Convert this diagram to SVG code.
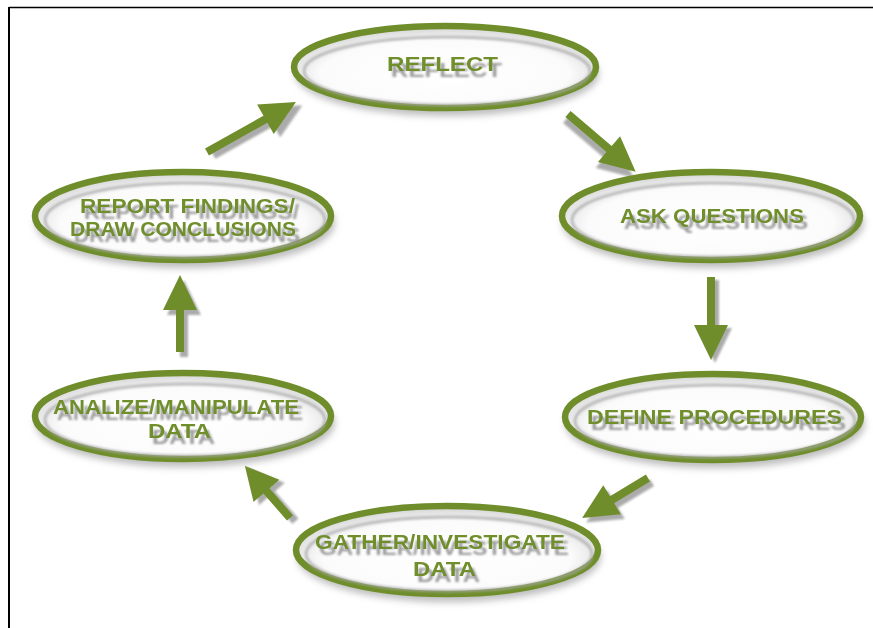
<svg xmlns="http://www.w3.org/2000/svg" width="873" height="628" viewBox="0 0 873 628">
<defs>
<radialGradient id="fillG" cx="50%" cy="58%" r="55%">
<stop offset="0%" stop-color="#ffffff"/>
<stop offset="75%" stop-color="#fbfbfb"/>
<stop offset="100%" stop-color="#d8d8d8"/>
</radialGradient>
<filter id="blur" x="-20%" y="-30%" width="140%" height="160%"><feGaussianBlur stdDeviation="3.5"/></filter>
<filter id="tblur" x="-10%" y="-50%" width="120%" height="200%"><feGaussianBlur stdDeviation="0.8"/></filter>
<filter id="ts" x="-5%" y="-40%" width="115%" height="200%">
<feGaussianBlur in="SourceAlpha" stdDeviation="0.9"/>
<feOffset dx="4" dy="6" result="o"/>
<feFlood flood-color="#8a8a8a" flood-opacity="0.85"/>
<feComposite in2="o" operator="in" result="s"/>
<feMerge><feMergeNode in="s"/><feMergeNode in="SourceGraphic"/></feMerge>
</filter>
</defs>
<style>
.ring{fill:url(#fillG);stroke:#6f8e2b;stroke-width:6.5}
.shade{fill:none;stroke:#a8a8a8;stroke-width:3;opacity:0.7}
.lbl{font-family:"Liberation Sans",Arial,sans-serif;font-weight:bold;font-size:21px;fill:#6f8e2b;filter:url(#ts)}
.arrow{fill:#6f8e2b}
.ashadow{fill:#8f8f8f;opacity:0.75}
.frame{stroke:#000;fill:none}
</style>
<rect width="873" height="628" fill="#ffffff"/>
<line class="frame" x1="9" y1="7.5" x2="873" y2="7.5" stroke-width="1.5"/>
<line class="frame" x1="9" y1="7" x2="9" y2="628" stroke-width="2"/>

<g id="connectors">
<g transform="translate(207,152) rotate(-29.3)">
<path class="ashadow" filter="url(#tblur)" transform="translate(4,6)" d="M0,-4 L67,-4 L67,-17 L102,0 L67,17 L67,4 L0,4 Z"/>
<path class="arrow" d="M0,-4 L67,-4 L67,-17 L102,0 L67,17 L67,4 L0,4 Z"/>
</g>
<g transform="translate(568,114) rotate(40.5)">
<path class="ashadow" filter="url(#tblur)" transform="translate(2,6)" d="M0,-4 L54,-4 L54,-17 L89,0 L54,17 L54,4 L0,4 Z"/>
<path class="arrow" d="M0,-4 L54,-4 L54,-17 L89,0 L54,17 L54,4 L0,4 Z"/>
</g>
<g transform="translate(711,277) rotate(90)">
<path class="ashadow" filter="url(#tblur)" transform="translate(3,-4)" d="M0,-4 L48,-4 L48,-17 L83,0 L48,17 L48,4 L0,4 Z"/>
<path class="arrow" d="M0,-4 L48,-4 L48,-17 L83,0 L48,17 L48,4 L0,4 Z"/>
</g>
<g transform="translate(648,478) rotate(148.8)">
<path class="ashadow" filter="url(#tblur)" transform="translate(-1,-6)" d="M0,-4 L42,-4 L42,-17 L77,0 L42,17 L42,4 L0,4 Z"/>
<path class="arrow" d="M0,-4 L42,-4 L42,-17 L77,0 L42,17 L42,4 L0,4 Z"/>
</g>
<g transform="translate(290,518) rotate(-130.9)">
<path class="ashadow" filter="url(#tblur)" transform="translate(-6,2)" d="M0,-4 L36,-4 L36,-17 L69,0 L36,17 L36,4 L0,4 Z"/>
<path class="arrow" d="M0,-4 L36,-4 L36,-17 L69,0 L36,17 L36,4 L0,4 Z"/>
</g>
<g transform="translate(180,352) rotate(-90)">
<path class="ashadow" filter="url(#tblur)" transform="translate(-5,4)" d="M0,-4 L42,-4 L42,-17 L77,0 L42,17 L42,4 L0,4 Z"/>
<path class="arrow" d="M0,-4 L42,-4 L42,-17 L77,0 L42,17 L42,4 L0,4 Z"/>
</g>
</g>

<g id="reflect">
<ellipse cx="447" cy="74" rx="152" ry="42" fill="#bdbdbd" filter="url(#blur)"/>
<ellipse class="ring" cx="445" cy="67" rx="151" ry="41"/>
<ellipse class="shade" cx="447" cy="71" rx="143" ry="34" filter="url(#tblur)"/>
<text class="lbl" x="387" y="71" textLength="111" lengthAdjust="spacingAndGlyphs">REFLECT</text>
</g>

<g id="ask">
<ellipse cx="713" cy="223" rx="151" ry="45" fill="#bdbdbd" filter="url(#blur)"/>
<ellipse class="ring" cx="711" cy="216" rx="149" ry="44"/>
<ellipse class="shade" cx="713" cy="220" rx="141" ry="37" filter="url(#tblur)"/>
<text class="lbl" x="620" y="223" textLength="184" lengthAdjust="spacingAndGlyphs">ASK QUESTIONS</text>
</g>

<g id="define">
<ellipse cx="715" cy="424" rx="150" ry="44" fill="#bdbdbd" filter="url(#blur)"/>
<ellipse class="ring" cx="713" cy="417" rx="148" ry="43"/>
<ellipse class="shade" cx="715" cy="421" rx="140" ry="36" filter="url(#tblur)"/>
<text class="lbl" x="587" y="424" textLength="255" lengthAdjust="spacingAndGlyphs">DEFINE PROCEDURES</text>
</g>

<g id="gather">
<ellipse cx="449" cy="557" rx="152" ry="45" fill="#bdbdbd" filter="url(#blur)"/>
<ellipse class="ring" cx="447" cy="550" rx="151" ry="44"/>
<ellipse class="shade" cx="449" cy="554" rx="143" ry="37" filter="url(#tblur)"/>
<text class="lbl" x="315" y="549" textLength="250" lengthAdjust="spacingAndGlyphs">GATHER/INVESTIGATE</text>
<text class="lbl" x="413" y="576" textLength="63" lengthAdjust="spacingAndGlyphs">DATA</text>
</g>

<g id="analize">
<ellipse cx="185" cy="423" rx="150" ry="44" fill="#bdbdbd" filter="url(#blur)"/>
<ellipse class="ring" cx="183" cy="416" rx="148" ry="43"/>
<ellipse class="shade" cx="185" cy="420" rx="140" ry="36" filter="url(#tblur)"/>
<text class="lbl" x="53" y="414" textLength="246" lengthAdjust="spacingAndGlyphs">ANALIZE/MANIPULATE</text>
<text class="lbl" x="148" y="438" textLength="63" lengthAdjust="spacingAndGlyphs">DATA</text>
</g>

<g id="report">
<ellipse cx="185" cy="223" rx="150" ry="45" fill="#bdbdbd" filter="url(#blur)"/>
<ellipse class="ring" cx="183" cy="216" rx="148" ry="44"/>
<ellipse class="shade" cx="185" cy="220" rx="140" ry="37" filter="url(#tblur)"/>
<text class="lbl" x="80" y="213" textLength="215" lengthAdjust="spacingAndGlyphs">REPORT FINDINGS/</text>
<text class="lbl" x="70" y="236" textLength="226" lengthAdjust="spacingAndGlyphs">DRAW CONCLUSIONS</text>
</g>
</svg>
